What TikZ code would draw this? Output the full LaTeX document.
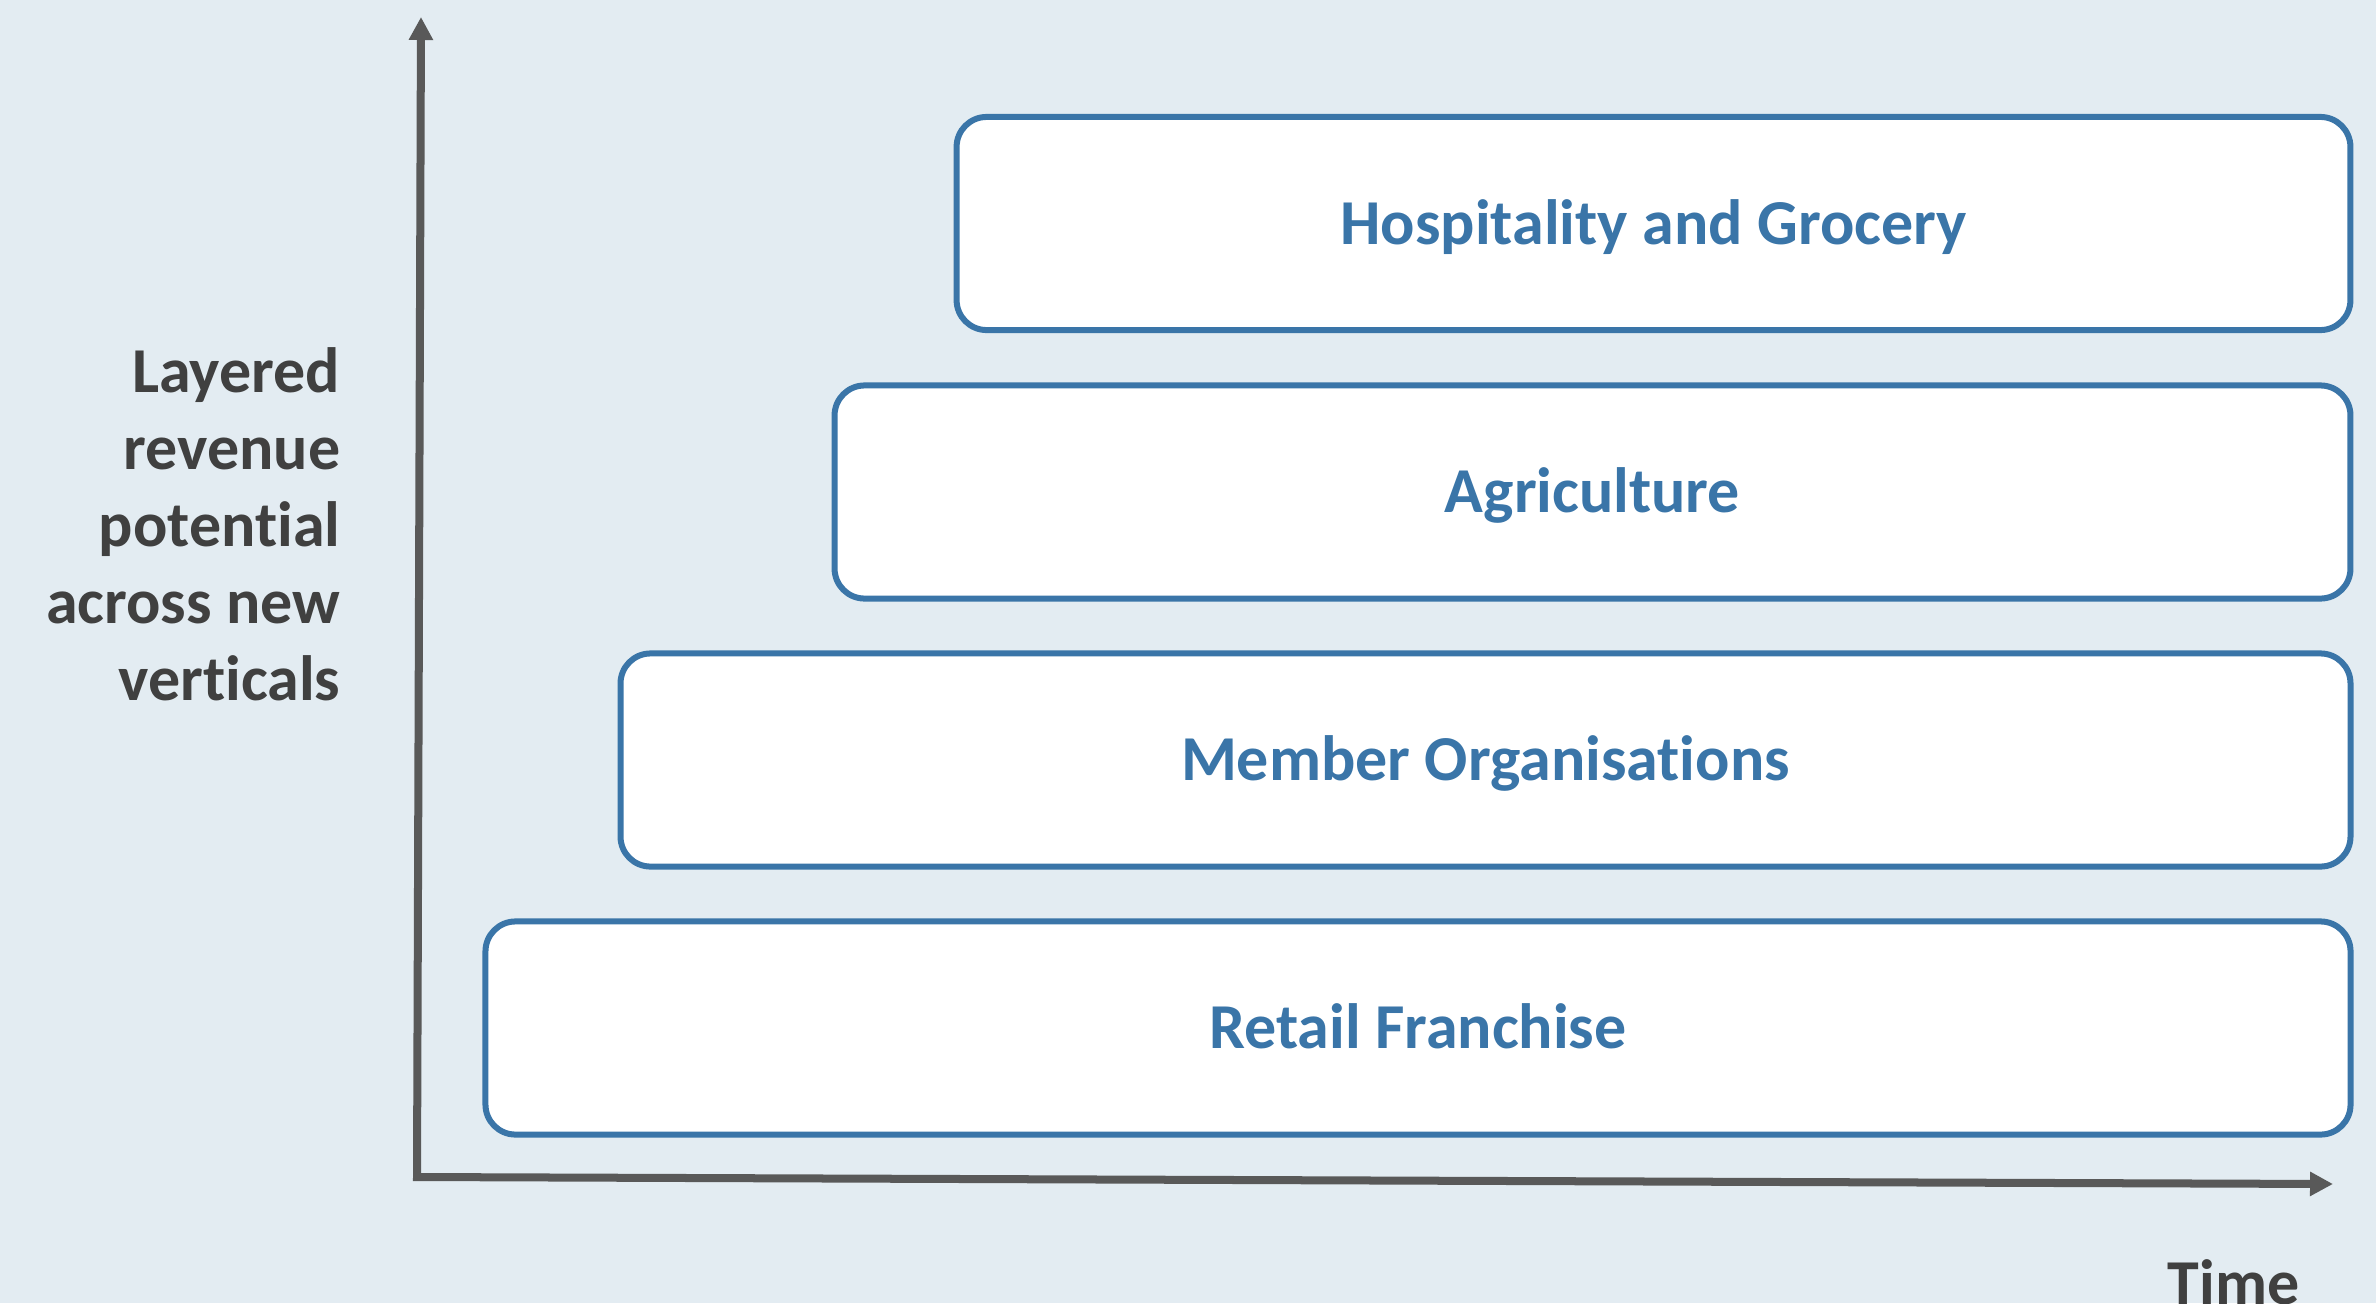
\documentclass[tikz,border=0pt]{standalone}
\usepackage{fontspec}
\setmainfont{Carlito}[Ligatures=NoCommon]
\usepackage{xcolor}
\usepackage{tikz}
\usetikzlibrary{positioning}
\usetikzlibrary{calc}
\usetikzlibrary{arrows.meta}

\definecolor{PanelBg}{HTML}{E3ECF2}
\definecolor{LayerBlue}{HTML}{3A75A8}
\definecolor{AxisGray}{HTML}{595959}
\definecolor{LabelGray}{HTML}{404040}

\begin{document}
\begin{tikzpicture}[
	x=0.01cm, y=-0.01cm,
	layer/.style={
		draw=LayerBlue,
		line width=0.06cm,
		fill=white,
		rounded corners=0.3cm,
		inner sep=0pt,
		minimum height=2.13cm,
		text=LayerBlue,
		text height=0.41cm,
		text depth=0cm,
		font=\fontsize{18.2}{21.9}\selectfont\bfseries
	},
	axis/.style={
		draw=AxisGray,
		line width=0.08cm,
		{Triangle[length=0.23cm, width=0.23cm]}-{Triangle[length=0.23cm, width=0.23cm]}
	},
	axislabel/.style={
		text=LabelGray,
		inner sep=0pt,
		font=\fontsize{18.2}{21.9}\selectfont\bfseries
	}
]

\fill[PanelBg] (0,0) rectangle (2376,1303);
\useasboundingbox (0,0) rectangle (2376,1303);

\node[
	layer,
	minimum width=13.93cm
] (hospitality) at (1653.5,223.5) {Hospitality and Grocery};

\node[
	layer,
	minimum width=15.15cm
] (agriculture) at (1592.5,492) {Agriculture};

\node[
	layer,
	minimum width=17.29cm
] (member) at (1485.5,760) {Member Organisations};

\node[
	layer,
	minimum width=18.64cm
] (retail) at (1418,1028) {Retail Franchise};

% ---

\coordinate (origin) at (417,1177);
\coordinate (revenueTip) at (421,17);
\coordinate (timeTip) at (2333,1184);

\draw[axis] (revenueTip) -- (origin) -- (timeTip);

\node[
	axislabel,
	align=right,
	anchor=north east
] (revenueLabel) at (341,347) {Layered\\revenue\\potential\\across new\\verticals};

\node[
	axislabel,
	anchor=base west
] (timeLabel) at (2167,1304) {Time};

\end{tikzpicture}
\end{document}
